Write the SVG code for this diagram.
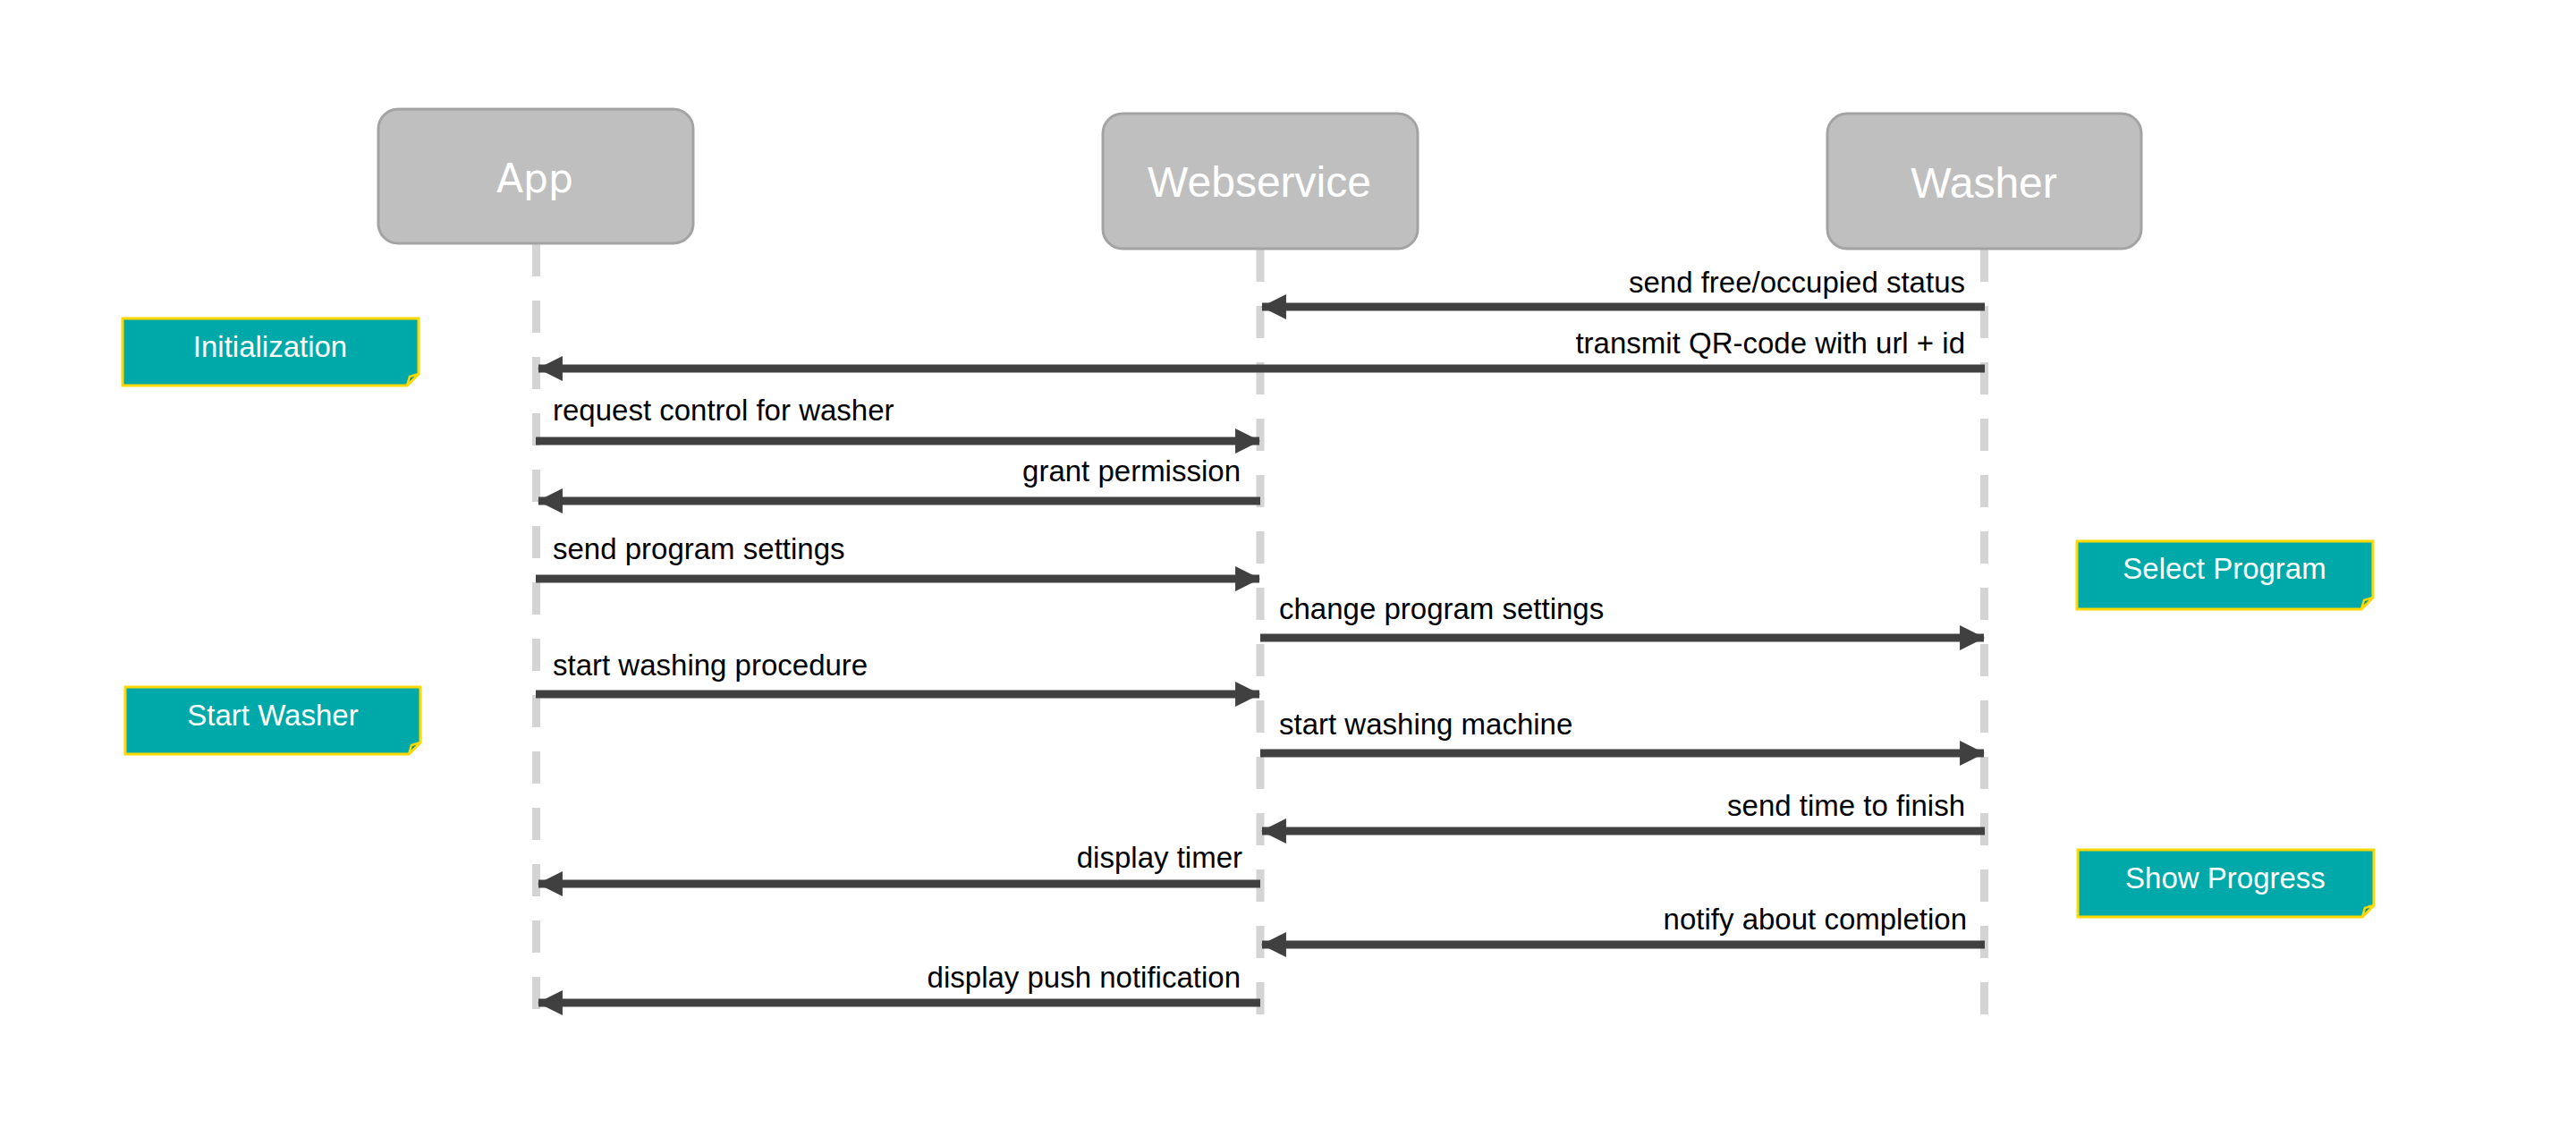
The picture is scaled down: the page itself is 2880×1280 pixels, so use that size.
<svg xmlns="http://www.w3.org/2000/svg" width="2880" height="1280" viewBox="0 0 2880 1280">
<defs>
<style>
.actor{fill:#BFBFBF;stroke:#A3A3A3;stroke-width:3}
.atext{fill:#FFFFFF;font-family:"Liberation Sans",Arial,sans-serif;font-size:48px;text-anchor:middle}
.apptext{fill:#FFFFFF;font-family:"DejaVu Sans",Verdana,sans-serif;font-size:44px;text-anchor:middle}
.life{stroke:#D4D4D4;stroke-width:9;stroke-dasharray:36 27;fill:none}
.msg{stroke:#404040;stroke-width:9;fill:none}
.lbl{fill:#000000;font-family:"Liberation Sans",Arial,sans-serif;font-size:33px}
.end{text-anchor:end}
.note{fill:#00A9A9;stroke:#FFD800;stroke-width:3}
.fold{fill:#008C8C;stroke:#FFD800;stroke-width:2.5}
.ntext{fill:#FFFFFF;font-family:"Liberation Sans",Arial,sans-serif;font-size:33px;text-anchor:middle}
</style>
<marker id="ah" markerUnits="userSpaceOnUse" markerWidth="28" markerHeight="28" viewBox="0 0 26 26" refX="25" refY="13" orient="auto">
<path d="M0,0 L26,13 L0,26 Z" fill="#404040"/>
</marker>
</defs>
<rect width="2880" height="1280" fill="#FFFFFF"/>

<g id="lifelines">
<line class="life" x1="599.5" y1="273" x2="599.5" y2="1130"/>
<line class="life" x1="1409" y1="279" x2="1409" y2="1135"/>
<line class="life" x1="2218.5" y1="279" x2="2218.5" y2="1135"/>
</g>

<g id="actor-app">
<rect class="actor" x="423" y="122" width="352" height="150" rx="22"/>
<text class="apptext" x="598" y="215">App</text>
</g>
<g id="actor-webservice">
<rect class="actor" x="1233" y="127" width="352" height="151" rx="22"/>
<text class="atext" x="1408" y="220">Webservice</text>
</g>
<g id="actor-washer">
<rect class="actor" x="2043" y="127" width="351" height="151" rx="22"/>
<text class="atext" x="2218" y="221">Washer</text>
</g>

<g id="note-initialization">
<path class="note" d="M137,356 H468 V418 L455,431 H137 Z"/>
<path class="fold" d="M468,418 L455,431 L458,421 Z"/>
<text class="ntext" x="302" y="399">Initialization</text>
</g>
<g id="note-select-program">
<path class="note" d="M2322,605 H2653 V668 L2640,681 H2322 Z"/>
<path class="fold" d="M2653,668 L2640,681 L2643,671 Z"/>
<text class="ntext" x="2487" y="647">Select Program</text>
</g>
<g id="note-start-washer">
<path class="note" d="M140,768 H470 V830 L457,843 H140 Z"/>
<path class="fold" d="M470,830 L457,843 L460,833 Z"/>
<text class="ntext" x="305" y="811">Start Washer</text>
</g>
<g id="note-show-progress">
<path class="note" d="M2323,950 H2654 V1012 L2641,1025 H2323 Z"/>
<path class="fold" d="M2654,1012 L2641,1025 L2644,1015 Z"/>
<text class="ntext" x="2488" y="993">Show Progress</text>
</g>

<g id="connectors">
<line class="msg" x1="2219" y1="343" x2="1411" y2="343" marker-end="url(#ah)"/>
<text class="lbl end" x="2197" y="327">send free/occupied status</text>

<line class="msg" x1="2219" y1="412" x2="602" y2="412" marker-end="url(#ah)"/>
<text class="lbl end" x="2197" y="395">transmit QR-code with url + id</text>

<line class="msg" x1="599" y1="493" x2="1408" y2="493" marker-end="url(#ah)"/>
<text class="lbl" x="618" y="470">request control for washer</text>

<line class="msg" x1="1409" y1="560" x2="602" y2="560" marker-end="url(#ah)"/>
<text class="lbl end" x="1387" y="538">grant permission</text>

<line class="msg" x1="599" y1="647" x2="1408" y2="647" marker-end="url(#ah)"/>
<text class="lbl" x="618" y="625">send program settings</text>

<line class="msg" x1="1409" y1="713" x2="2218" y2="713" marker-end="url(#ah)"/>
<text class="lbl" x="1430" y="692">change program settings</text>

<line class="msg" x1="599" y1="776" x2="1408" y2="776" marker-end="url(#ah)"/>
<text class="lbl" x="618" y="755">start washing procedure</text>

<line class="msg" x1="1409" y1="842" x2="2218" y2="842" marker-end="url(#ah)"/>
<text class="lbl" x="1430" y="821">start washing machine</text>

<line class="msg" x1="2219" y1="929" x2="1411" y2="929" marker-end="url(#ah)"/>
<text class="lbl end" x="2197" y="912">send time to finish</text>

<line class="msg" x1="1409" y1="988" x2="602" y2="988" marker-end="url(#ah)"/>
<text class="lbl end" x="1389" y="970">display timer</text>

<line class="msg" x1="2219" y1="1056" x2="1411" y2="1056" marker-end="url(#ah)"/>
<text class="lbl end" x="2199" y="1039">notify about completion</text>

<line class="msg" x1="1409" y1="1121" x2="602" y2="1121" marker-end="url(#ah)"/>
<text class="lbl end" x="1387" y="1104">display push notification</text>
</g>
</svg>
